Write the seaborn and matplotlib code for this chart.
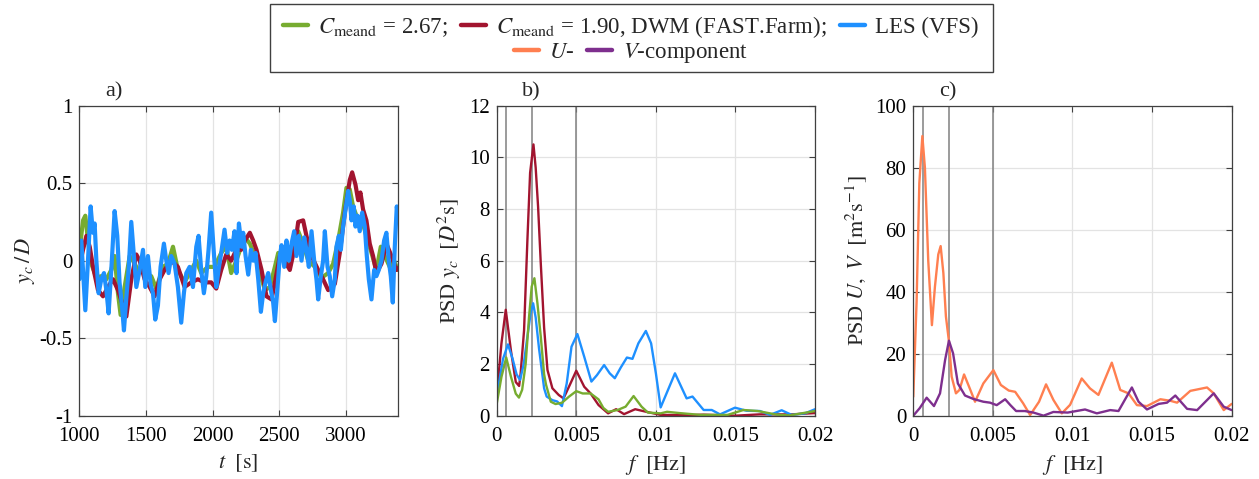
import matplotlib
matplotlib.use("Agg")
import matplotlib.pyplot as plt
import seaborn as sns
from matplotlib.patches import Rectangle
from matplotlib.lines import Line2D

# ---------------- data ----------------
# a) wake-centre track y_c/D over time
t_les = [1000, 1015, 1035, 1045, 1065, 1085, 1102, 1115, 1128, 1145,
         1165, 1185, 1203, 1220, 1240, 1265, 1285, 1302, 1320, 1335,
         1352, 1370, 1390, 1408, 1428, 1453, 1478, 1495, 1515, 1535,
         1553, 1570, 1590, 1610, 1635, 1653, 1670, 1690, 1715, 1740,
         1765, 1785, 1803, 1828, 1853, 1878, 1895, 1915, 1935, 1953,
         1970, 1990, 2010, 2028, 2045, 2065, 2090, 2110, 2128, 2145,
         2165, 2180, 2198, 2218, 2230, 2248, 2268, 2288, 2305, 2323,
         2343, 2363, 2380, 2398, 2418, 2438, 2455, 2468, 2488, 2505,
         2518, 2538, 2555, 2573, 2593, 2613, 2630, 2648, 2668, 2688,
         2705, 2723, 2743, 2763, 2780, 2793, 2813, 2830, 2843, 2863,
         2880, 2898, 2918, 2930, 2948, 2963, 2980, 2998, 3018, 3030,
         3043, 3060, 3073, 3088, 3105, 3123, 3143, 3158, 3173, 3193,
         3213, 3230, 3248, 3268, 3288, 3305, 3323, 3338, 3353, 3368,
         3383, 3390]
yc_les = [-0.12, 0.13, -0.17, -0.32, 0.00, 0.35, 0.18, 0.24, 0.00, -0.21,
          -0.12, -0.08, -0.19, -0.34, -0.06, 0.32, 0.16, -0.14, -0.29, -0.45,
          -0.25, -0.06, 0.25, 0.05, -0.17, -0.06, 0.07, -0.17, 0.03, -0.15,
          -0.21, -0.38, -0.29, -0.04, 0.11, 0.00, -0.08, 0.03, -0.02, -0.17,
          -0.40, -0.21, -0.08, -0.04, -0.17, 0.09, 0.16, -0.06, -0.21, -0.10,
          0.07, 0.31, 0.05, -0.17, -0.06, 0.05, 0.20, 0.05, 0.13, 0.07,
          0.19, -0.08, 0.24, 0.09, 0.18, 0.03, -0.09, 0.07, 0.00, 0.05,
          -0.12, -0.33, -0.21, -0.14, -0.08, -0.19, -0.27, -0.39, -0.17, 0.03,
          0.10, -0.04, 0.13, 0.00, 0.11, 0.19, 0.03, 0.16, 0.00, 0.15,
          0.07, -0.04, 0.19, 0.00, -0.12, -0.25, -0.10, 0.00, 0.19, -0.04,
          -0.10, -0.23, -0.12, 0.09, 0.16, 0.07, 0.22, 0.33, 0.45, 0.39,
          0.26, 0.35, 0.22, 0.29, 0.19, 0.31, 0.22, 0.03, -0.12, -0.25,
          -0.06, -0.10, -0.06, 0.00, 0.13, 0.18, 0.00, -0.10, -0.27, 0.09,
          0.35, 0.30]

t_c267 = [1000, 1028, 1045, 1065, 1090, 1128, 1165, 1203, 1240, 1265,
          1290, 1310, 1340, 1378, 1403, 1440, 1490, 1540, 1578, 1628,
          1665, 1703, 1740, 1790, 1840, 1878, 1915, 1965, 2015, 2065,
          2103, 2140, 2178, 2215, 2243, 2280, 2318, 2355, 2393, 2430,
          2468, 2493, 2530, 2568, 2605, 2643, 2680, 2718, 2768, 2818,
          2868, 2905, 2943, 2980, 3005, 3030, 3055, 3080, 3118, 3155,
          3193, 3230, 3263, 3293, 3330, 3363, 3390]
yc_c267 = [0.05, 0.26, 0.29, 0.13, -0.02, -0.11, -0.10, -0.12, -0.06, 0.03,
           -0.21, -0.35, -0.17, 0.03, 0.00, -0.06, -0.08, -0.10, -0.18, -0.04,
           -0.02, 0.09, -0.06, -0.14, -0.06, 0.00, -0.08, -0.04, -0.04, 0.05,
           0.09, -0.08, 0.00, 0.09, 0.15, 0.11, 0.03, -0.08, -0.19, -0.17,
           -0.04, 0.05, 0.00, -0.04, 0.09, 0.19, 0.11, 0.00, -0.04, -0.11,
           -0.08, -0.02, 0.13, 0.31, 0.47, 0.46, 0.35, 0.29, 0.27, 0.16,
           0.05, -0.06, 0.09, 0.03, -0.04, 0.00, -0.06]

t_c190 = [1000, 1028, 1053, 1078, 1103, 1140, 1178, 1215, 1253, 1290,
          1328, 1353, 1390, 1428, 1453, 1490, 1528, 1565, 1603, 1640,
          1690, 1740, 1790, 1840, 1890, 1940, 1990, 2028, 2065, 2103,
          2140, 2178, 2215, 2243, 2280, 2305, 2330, 2368, 2405, 2443,
          2468, 2505, 2543, 2580, 2618, 2643, 2680, 2705, 2743, 2793,
          2830, 2868, 2918, 2955, 2993, 3030, 3048, 3073, 3093, 3110,
          3130, 3155, 3180, 3205, 3230, 3268, 3305, 3343, 3380, 3390]
yc_c190 = [-0.04, 0.07, 0.16, 0.09, -0.04, -0.19, -0.23, -0.17, -0.12, -0.19,
           -0.29, -0.36, -0.12, 0.04, 0.00, -0.12, -0.17, -0.23, -0.12, -0.06,
           0.00, -0.04, -0.17, -0.14, -0.12, -0.14, -0.14, -0.18, -0.06, 0.04,
           0.00, 0.07, 0.07, 0.13, 0.18, 0.13, 0.07, -0.06, -0.23, -0.25,
           -0.14, 0.03, 0.00, -0.06, 0.09, 0.25, 0.26, 0.16, 0.03, -0.06,
           -0.12, -0.19, -0.15, 0.05, 0.31, 0.52, 0.57, 0.49, 0.39, 0.44,
           0.33, 0.26, 0.11, 0.03, -0.08, -0.02, 0.11, 0.03, -0.06, -0.05]

# b) PSD of y_c
f_b_c267 = [0.0, 0.0003, 0.0006, 0.0009, 0.0012, 0.0014, 0.0016, 0.00182, 0.00203, 0.0022,
            0.00237, 0.00256, 0.00277, 0.00298, 0.0031, 0.0034, 0.0037, 0.0041, 0.00455, 0.0050,
            0.0054, 0.0059, 0.0064, 0.0067, 0.0070, 0.0076, 0.0081, 0.0086, 0.0091, 0.0095,
            0.0103, 0.0107, 0.0115, 0.0128, 0.0145, 0.0155, 0.0164, 0.0176, 0.0184, 0.0199,
            0.0200]
psd_b_c267 = [0.45, 1.5, 2.25, 1.5, 0.85, 0.7, 1.0, 2.0, 3.8, 5.0,
              5.32, 4.35, 3.06, 1.6, 1.2, 0.54, 0.45, 0.5, 0.74, 0.95,
              0.86, 0.86, 0.63, 0.3, 0.15, 0.22, 0.35, 0.76, 0.35, 0.12,
              0.09, 0.15, 0.1, 0.03, 0.03, 0.22, 0.18, 0.04, 0.01, 0.17,
              0.18]

f_b_c190 = [0.0, 0.0003, 0.00057, 0.0009, 0.0012, 0.00141, 0.0015, 0.00172, 0.00193, 0.0021,
            0.00231, 0.00245, 0.0026, 0.00277, 0.00298, 0.00319, 0.0035, 0.0039, 0.0042, 0.0046,
            0.0050, 0.0055, 0.0059, 0.0064, 0.0070, 0.0075, 0.0080, 0.0087, 0.0094, 0.0103,
            0.0120, 0.0130, 0.0150, 0.0165, 0.0185, 0.0200]
psd_b_c190 = [0.74, 2.8, 4.1, 2.5, 1.3, 1.15, 1.6, 3.3, 6.8, 9.4,
              10.5, 9.6, 8.1, 5.9, 3.4, 1.77, 1.06, 0.8, 0.67, 1.2,
              1.74, 1.12, 0.86, 0.41, 0.09, 0.25, 0.06, 0.25, 0.15, 0.03,
              0.02, 0.04, 0.0, 0.05, 0.05, 0.1]

f_b_les = [0.0, 0.0004, 0.00071, 0.0010, 0.00125, 0.00147, 0.0017, 0.00193, 0.00214, 0.00229,
           0.00245, 0.00266, 0.00298, 0.00314, 0.0035, 0.0038, 0.0041, 0.0044, 0.0047, 0.00507,
           0.0055, 0.00595, 0.0063, 0.00675, 0.0071, 0.00742, 0.0078, 0.00818, 0.00853, 0.0089,
           0.00937, 0.0097, 0.0100, 0.0103, 0.0112, 0.01193, 0.0123, 0.0130, 0.01351, 0.01403,
           0.01497, 0.0157, 0.01654, 0.01717, 0.0179, 0.01853, 0.01937, 0.0200]
psd_b_les = [0.74, 2.2, 2.76, 2.2, 1.6, 1.38, 2.0, 3.06, 4.0, 4.35,
             3.8, 2.6, 1.06, 0.74, 0.6, 0.55, 0.37, 1.25, 2.67, 3.16,
             2.28, 1.32, 1.57, 1.96, 1.64, 1.45, 1.87, 2.25, 2.2, 2.8,
             3.28, 2.8, 1.64, 0.32, 1.64, 0.67, 0.74, 0.22, 0.22, 0.05,
             0.31, 0.19, 0.18, 0.03, 0.21, 0.03, 0.09, 0.25]

# c) PSD of U and V
f_c_u = [0.0, 0.00021, 0.00038, 0.00057, 0.00073, 0.00094, 0.00117, 0.00136, 0.00157, 0.00172,
         0.00189, 0.00205, 0.00224, 0.00241, 0.00268, 0.0029, 0.00319, 0.0035, 0.00388, 0.0044,
         0.00503, 0.0055, 0.0060, 0.0064, 0.0069, 0.00734, 0.0079, 0.00834, 0.0088, 0.00933,
         0.00985, 0.01058, 0.0111, 0.01163, 0.01247, 0.0130, 0.01352, 0.01405, 0.01468, 0.01552,
         0.01615, 0.01657, 0.0174, 0.01845, 0.01887, 0.0195, 0.0200]
psd_c_u = [6.1, 37.0, 75.0, 90.2, 80.0, 50.0, 29.2, 41.6, 52.0, 54.7,
           46.0, 32.0, 24.0, 12.6, 7.2, 8.3, 13.3, 9.4, 4.5, 10.4,
           14.7, 9.9, 8.1, 7.7, 4.0, 0.2, 4.5, 10.1, 5.1, 0.75,
           3.5, 12.0, 8.8, 6.7, 17.1, 8.3, 7.2, 3.4, 3.1, 5.3,
           4.8, 4.2, 8.0, 9.1, 7.2, 1.8, 3.8]

f_c_v = [0.0, 0.0004, 0.00084, 0.0013, 0.00168, 0.0020, 0.00224, 0.0025, 0.0028, 0.00325,
         0.00377, 0.0044, 0.00482, 0.00524, 0.00577, 0.0061, 0.00646, 0.0070, 0.00755, 0.00818,
         0.0088, 0.0097, 0.01079, 0.01153, 0.01237, 0.01289, 0.01373, 0.01415, 0.01468, 0.01541,
         0.01594, 0.01646, 0.0172, 0.01783, 0.01887, 0.0195, 0.0200]
psd_c_v = [0.0, 2.4, 5.8, 3.1, 7.2, 18.0, 24.2, 20.1, 10.4, 6.5,
           5.4, 4.5, 4.2, 3.4, 5.3, 3.4, 1.5, 1.5, 1.0, 0.0,
           1.2, 1.0, 2.0, 0.75, 1.8, 1.5, 9.1, 4.5, 2.0, 3.8,
           4.2, 6.5, 2.2, 1.8, 7.2, 2.9, 1.8]

f_marks = [0.0006, 0.00224, 0.005]

a_xticks = [1000, 1500, 2000, 2500, 3000]
a_yticks = [-1, -0.5, 0, 0.5, 1]
a_yticklabels = ["-1", "-0.5", "0", "0.5", "1"]
f_ticks = [0, 0.005, 0.01, 0.015, 0.02]
f_ticklabels = ["0", "0.005", "0.01", "0.015", "0.02"]
b_yticks = [0, 2, 4, 6, 8, 10, 12]
c_yticks = [0, 20, 40, 60, 80, 100]

legend_row1 = [r"$C_{\mathrm{meand}}$ = 2.67;",
               r"$C_{\mathrm{meand}}$ = 1.90, DWM (FAST.Farm);",
               "LES (VFS)"]
legend_row2 = [r"$U$-", r"$V$-component"]

# ---------------- style ----------------
C_GREEN = "#77AC30"
C_RED = "#A2142F"
C_BLUE = "#1E90FF"
C_ORANGE = "#FF7F50"
C_PURPLE = "#7E2F8E"

sns.set_theme(style="whitegrid")
plt.rcParams["font.family"] = ["Liberation Serif", "DejaVu Serif"]
plt.rcParams["mathtext.fontset"] = "stix"
plt.rcParams["axes.unicode_minus"] = False

FS = 15
LFS = 16
fig = plt.figure(figsize=(12.59, 4.79), dpi=100)
fig.patch.set_facecolor("white")

W, H, B = 0.2529, 0.6472, 0.1322
ax_a = fig.add_axes([0.0630, B, W, H])
ax_b = fig.add_axes([0.3945, B, W, H])
ax_c = fig.add_axes([0.7254, B, W, H])


def style_axes(ax):
    ax.set_facecolor("white")
    ax.grid(True, color="#e3e3e3", lw=0.9)
    ax.set_axisbelow(True)
    for s in ax.spines.values():
        s.set_visible(True)
        s.set_color("#404040")
        s.set_linewidth(0.9)
    ax.tick_params(axis="both", which="both", direction="in", length=4,
                   width=0.8, color="#404040", labelsize=FS,
                   right=True, left=True, bottom=True, top=True,
                   labelcolor="black")
    ax.tick_params(axis="x", pad=8)
    ax.tick_params(axis="y", pad=5)


# a)
sns.lineplot(x=t_c267, y=yc_c267, ax=ax_a, color=C_GREEN, lw=3.0,
             estimator=None, sort=False, legend=False)
sns.lineplot(x=t_c190, y=yc_c190, ax=ax_a, color=C_RED, lw=3.0,
             estimator=None, sort=False, legend=False)
sns.lineplot(x=t_les, y=yc_les, ax=ax_a, color=C_BLUE, lw=3.0,
             estimator=None, sort=False, legend=False)
ax_a.set_xlim(1000, 3390)
ax_a.set_ylim(-1, 1)
ax_a.set_xticks(a_xticks)
ax_a.set_xticklabels([str(v) for v in a_xticks])
ax_a.set_yticks(a_yticks)
ax_a.set_yticklabels(a_yticklabels)
ax_a.set_xlabel(r"$t\ \ [\mathrm{s}]$", fontsize=LFS, labelpad=5)
ax_a.set_ylabel(r"$y_c\,/\,D$", fontsize=LFS, labelpad=2)
style_axes(ax_a)

# b)
for fm in f_marks:
    ax_b.axvline(fm, color="#808080", lw=1.1, zorder=1.5)
sns.lineplot(x=f_b_c190, y=psd_b_c190, ax=ax_b, color=C_RED, lw=1.7,
             estimator=None, sort=False, legend=False)
sns.lineplot(x=f_b_les, y=psd_b_les, ax=ax_b, color=C_BLUE, lw=1.7,
             estimator=None, sort=False, legend=False)
sns.lineplot(x=f_b_c267, y=psd_b_c267, ax=ax_b, color=C_GREEN, lw=1.7,
             estimator=None, sort=False, legend=False)
ax_b.set_xlim(0, 0.02)
ax_b.set_ylim(0, 12)
ax_b.set_xticks(f_ticks)
ax_b.set_xticklabels(f_ticklabels)
ax_b.set_yticks(b_yticks)
ax_b.set_yticklabels([str(v) for v in b_yticks])
ax_b.set_xlabel(r"$f\ \ [\mathrm{Hz}]$", fontsize=LFS, labelpad=5)
ax_b.set_ylabel(r"PSD $y_c\ \ [D^2\mathrm{s}]$", fontsize=LFS, labelpad=4)
style_axes(ax_b)

# c)
for fm in f_marks:
    ax_c.axvline(fm, color="#808080", lw=1.1, zorder=1.5)
sns.lineplot(x=f_c_u, y=psd_c_u, ax=ax_c, color=C_ORANGE, lw=1.7,
             estimator=None, sort=False, legend=False)
sns.lineplot(x=f_c_v, y=psd_c_v, ax=ax_c, color=C_PURPLE, lw=1.7,
             estimator=None, sort=False, legend=False)
ax_c.set_xlim(0, 0.02)
ax_c.set_ylim(0, 100)
ax_c.set_xticks(f_ticks)
ax_c.set_xticklabels(f_ticklabels)
ax_c.set_yticks(c_yticks)
ax_c.set_yticklabels([str(v) for v in c_yticks])
ax_c.set_xlabel(r"$f\ \ [\mathrm{Hz}]$", fontsize=LFS, labelpad=5)
ax_c.set_ylabel(r"PSD $U,\ V\ \ [\mathrm{m}^2\mathrm{s}^{-1}]$", fontsize=LFS, labelpad=4)
style_axes(ax_c)

# panel letters
for ax, letter in [(ax_a, "a)"), (ax_b, "b)"), (ax_c, "c)")]:
    ax.text(0.11, 1.045, letter, transform=ax.transAxes, ha="center",
            va="center", fontsize=LFS)

# legend (boxed, two centred rows)
fig.patches.append(Rectangle((270 / 1259, 1 - 72 / 479), 723 / 1259, 68 / 479,
                             transform=fig.transFigure, fill=True,
                             facecolor="white", edgecolor="#404040", lw=1.0,
                             zorder=0))
h1 = [Line2D([], [], color=c, lw=3.2) for c in (C_GREEN, C_RED, C_BLUE)]
h2 = [Line2D([], [], color=c, lw=3.2) for c in (C_ORANGE, C_PURPLE)]
fig.legend(h1, legend_row1, loc="center", bbox_to_anchor=(0.501, 1 - 27 / 479),
           ncol=3, frameon=False, fontsize=16.5, handlelength=1.1,
           handletextpad=0.45, columnspacing=0.55, borderpad=0.0)
fig.legend(h2, legend_row2, loc="center", bbox_to_anchor=(0.501, 1 - 53 / 479),
           ncol=2, frameon=False, fontsize=16.5, handlelength=1.1,
           handletextpad=0.45, columnspacing=0.55, borderpad=0.0)

fig.savefig("out.png", dpi=100, facecolor="white")
